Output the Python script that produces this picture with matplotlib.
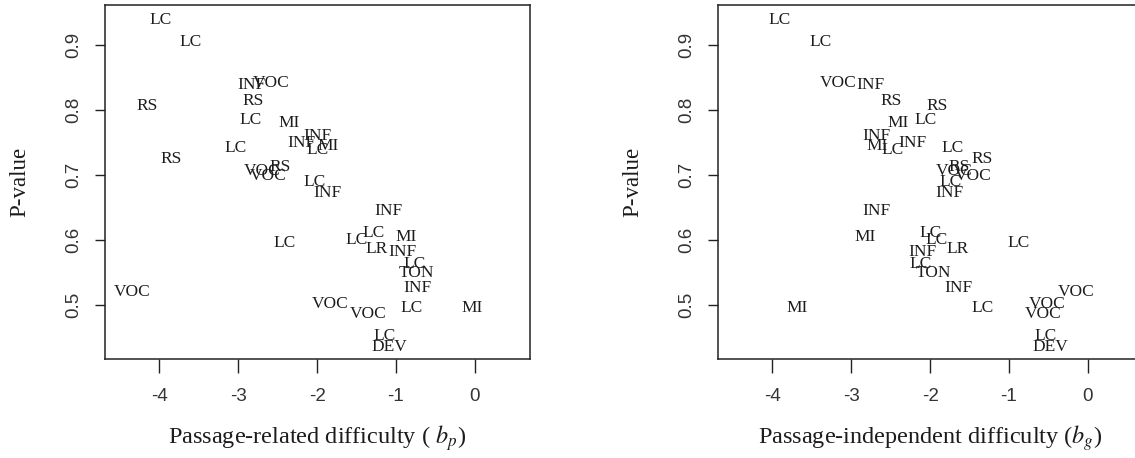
import matplotlib
matplotlib.use("Agg")
import matplotlib.pyplot as plt

labels = ["LC", "LC", "INF", "VOC", "RS", "RS", "LC", "MI", "LC", "INF",
          "INF", "LC", "MI", "RS", "VOC", "VOC", "RS", "LC", "INF", "INF",
          "LC", "LC", "LC", "LR", "MI", "INF", "LC", "TON", "INF", "VOC",
          "VOC", "VOC", "LC", "MI", "LC", "DEV"]
p_value = [0.939, 0.905, 0.838, 0.841, 0.814, 0.806, 0.785, 0.780, 0.742, 0.750,
           0.760, 0.738, 0.744, 0.725, 0.706, 0.699, 0.712, 0.689, 0.673, 0.645,
           0.596, 0.600, 0.611, 0.586, 0.605, 0.582, 0.564, 0.549, 0.527, 0.520,
           0.502, 0.486, 0.496, 0.496, 0.452, 0.435]
b_p = [-3.98, -3.61, -2.83, -2.58, -2.81, -4.15, -2.85, -2.36, -3.03, -2.20,
       -1.99, -2.00, -1.86, -3.85, -2.70, -2.62, -2.47, -2.03, -1.87, -1.10,
       -2.41, -1.50, -1.28, -1.25, -0.87, -0.92, -0.76, -0.74, -0.73, -4.35,
       -1.84, -1.35, -0.80, -0.04, -1.14, -1.08]
b_g = [-3.91, -3.39, -2.76, -3.16, -2.50, -1.91, -2.06, -2.40, -1.72, -2.23,
       -2.68, -2.47, -2.67, -1.34, -1.70, -1.45, -1.63, -1.74, -1.75, -2.68,
       -0.88, -1.92, -1.99, -1.65, -2.82, -2.10, -2.12, -1.96, -1.64, -0.15,
       -0.51, -0.57, -1.34, -3.69, -0.53, -0.47]

xticks = [-4, -3, -2, -1, 0]
yticks = [0.5, 0.6, 0.7, 0.8, 0.9]

plt.rcParams['mathtext.fontset'] = 'stix'
serif = 'Liberation Serif'
sans = 'Liberation Sans'
ink = '#1c1c1c'

fig = plt.figure(figsize=(11.35, 4.58), dpi=100)
W, H = 1135, 458
ax_w = 425 / W
ax_b = (H - 358.5) / H
ax_h = 353.5 / H
axes = [fig.add_axes([105 / W, ax_b, ax_w, ax_h]),
        fig.add_axes([718 / W, ax_b, ax_w, ax_h])]
xs = [b_p, b_g]
xlabels = ["Passage-related difficulty ( $b_p$)", "Passage-independent difficulty ($b_g$)"]

for ax, xv, xl in zip(axes, xs, xlabels):
    for lab, x, y in zip(labels, xv, p_value):
        ax.text(x, y, lab, ha='center', va='center', fontsize=12.5,
                family=serif, color=ink)
    ax.set_xlim(-4.69, 0.70)
    ax.set_ylim(0.418, 0.9615)
    ax.set_xticks(xticks)
    ax.set_xticklabels([str(t) for t in xticks], family=sans, fontsize=13.5, color='#333333')
    ax.set_yticks(yticks)
    ax.set_yticklabels([f"{t:.1f}" for t in yticks], family=sans, fontsize=13.5,
                       rotation=90, va='center', color='#333333')
    ax.tick_params(axis='x', length=10, width=1, pad=11, color='#222222')
    ax.tick_params(axis='y', length=7.5, width=1, pad=9, color='#222222')
    for s in ax.spines.values():
        s.set_linewidth(1.1)
        s.set_color('#222222')
    ax.set_xlabel(xl, family=serif, fontsize=17.5, color=ink, labelpad=13.5)
    ax.set_ylabel("P-value", family=serif, fontsize=16.5, color=ink, labelpad=25)

fig.savefig("out.png", dpi=100)
